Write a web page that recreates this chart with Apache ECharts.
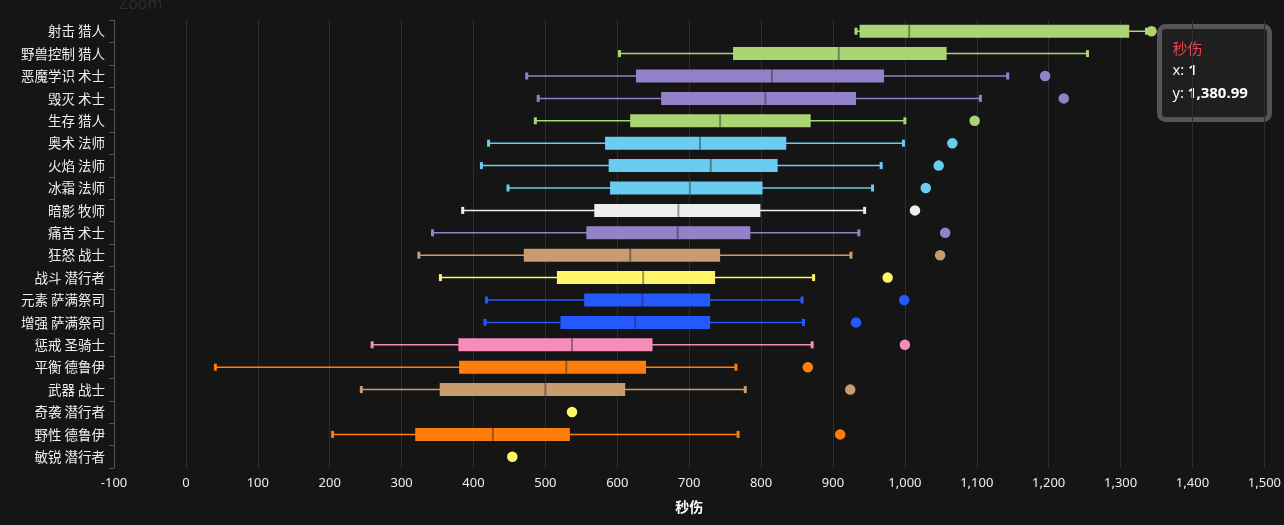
<!DOCTYPE html>
<html>
<head>
<meta charset="utf-8">
<script src="https://cdn.jsdelivr.net/npm/echarts@6/dist/echarts.min.js"></script>
<style>
html,body{margin:0;padding:0;background:#151515;}
#chart{width:1284px;height:525px;}
</style>
</head>
<body>
<div id="chart"></div>
<script>
const categories = ['射击 猎人','野兽控制 猎人','恶魔学识 术士','毁灭 术士','生存 猎人','奥术 法师','火焰 法师','冰霜 法师','暗影 牧师','痛苦 术士','狂怒 战士','战斗 潜行者','元素 萨满祭司','增强 萨满祭司','惩戒 圣骑士','平衡 德鲁伊','武器 战士','奇袭 潜行者','野性 德鲁伊','敏锐 潜行者'];
const mins    = [932, 603, 474, 490, 486, 421, 411, 448, 385, 343, 324, 354, 418, 416, 259,  41, 244, 537, 204, 454];
const q1s     = [937, 761, 626, 661, 618, 583, 588, 590, 568, 557, 470, 516, 554, 521, 379, 380, 353, 537, 319, 454];
const medians = [1006, 908, 815, 806, 743, 715, 730, 701, 685, 684, 618, 636, 635, 625, 537, 529, 500, 537, 427, 454];
const q3s     = [1312, 1058, 971, 932, 869, 835, 823, 802, 799, 785, 743, 736, 729, 729, 649, 640, 611, 537, 534, 454];
const maxs    = [1336, 1254, 1143, 1105, 1000, 998, 967, 955, 944, 936, 925, 873, 857, 859, 871, 765, 778, 537, 768, 454];
const outliers = [1343, null, 1195, 1221, 1097, 1066, 1047, 1029, 1014, 1056, 1049, 976, 999, 932, 1000, 865, 924, 537, 910, 454];
const xTicks = {min: -100, max: 1500, interval: 100};
const axisName = '秒伤';
const tipTitle = '秒伤';
const tipX = '1';
const tipY = '1,380.99';

const classColors = {
  '猎人': '#ABD473', '术士': '#9482C9', '法师': '#69CCF0', '牧师': '#EEEEEE',
  '战士': '#C79C6E', '潜行者': '#FFF569', '萨满祭司': '#2459FF', '圣骑士': '#F58CBA', '德鲁伊': '#FF7D0A'
};
function colorOf(i) { return classColors[categories[i].split(' ')[1]]; }

const boxData = categories.map((c, i) => [i, mins[i], q1s[i], medians[i], q3s[i], maxs[i]]);
const outlierData = [];
outliers.forEach((v, i) => { if (v != null) outlierData.push([v, i]); });

function renderItem(params, api) {
  const idx = api.value(0);
  const color = colorOf(idx);
  const pMin = api.coord([api.value(1), idx]);
  const pQ1 = api.coord([api.value(2), idx]);
  const pMed = api.coord([api.value(3), idx]);
  const pQ3 = api.coord([api.value(4), idx]);
  const pMax = api.coord([api.value(5), idx]);
  const band = api.size([0, 1])[1];
  const h = band * 0.58;
  const y = pMin[1];
  const children = [
    {type: 'line', shape: {x1: pMin[0], y1: y, x2: pMax[0], y2: y}, style: {stroke: color, lineWidth: 1.5}},
    {type: 'rect', shape: {x: pMin[0] - 1.5, y: y - 3.5, width: 3, height: 7}, style: {fill: color}},
    {type: 'rect', shape: {x: pMax[0] - 1.5, y: y - 3.5, width: 3, height: 7}, style: {fill: color}}
  ];
  if (pQ3[0] - pQ1[0] > 0.5) {
    children.push({type: 'rect', shape: {x: pQ1[0], y: y - h / 2, width: pQ3[0] - pQ1[0], height: h}, style: {fill: color}});
    children.push({type: 'line', shape: {x1: pMed[0], y1: y - h / 2, x2: pMed[0], y2: y + h / 2}, style: {stroke: 'rgba(40,40,40,0.45)', lineWidth: 2}});
  }
  return {type: 'group', children: children};
}

const chart = echarts.init(document.getElementById('chart'), null, {renderer: 'canvas'});
const tipFont = 'Open Sans';
chart.setOption({
  backgroundColor: '#151515',
  animation: false,
  title: {text: 'Zoom', left: 114, top: -9, textStyle: {color: '#2e2e2e', fontSize: 16, fontWeight: 'normal', fontFamily: 'Noto Sans'}},
  grid: {left: 114, right: 18, top: 20, bottom: 57},
  xAxis: {
    type: 'value', min: xTicks.min, max: xTicks.max, interval: xTicks.interval,
    name: axisName, nameLocation: 'middle', nameGap: 32,
    nameTextStyle: {color: '#fff', fontSize: 14, fontWeight: 'bold', fontFamily: 'Noto Sans CJK SC'},
    axisLine: {show: false}, axisTick: {show: false},
    axisLabel: {color: '#eee', fontSize: 13, margin: 9, fontFamily: 'Noto Sans', formatter: v => v.toLocaleString('en-US')},
    splitLine: {show: true, lineStyle: {color: '#2e2e2e', width: 1}}
  },
  yAxis: {
    type: 'category', data: categories, inverse: true,
    axisLine: {show: true, onZero: false, lineStyle: {color: '#555'}},
    axisTick: {show: true, length: 5, lineStyle: {color: '#555'}},
    axisLabel: {color: '#eee', fontSize: 13.5, margin: 9, fontFamily: 'Noto Sans CJK SC'},
    splitLine: {show: false}
  },
  series: [
    {type: 'custom', renderItem: renderItem, data: boxData, encode: {x: [1, 2, 3, 4, 5], y: 0}, z: 2},
    {type: 'scatter', data: outlierData, symbolSize: 10.5, z: 3,
      itemStyle: {opacity: 1, color: p => colorOf(p.value[1])}}
  ],
  graphic: [{
    type: 'group', left: 1157, top: 24,
    children: [
      {type: 'rect', shape: {x: 0, y: 0, width: 110, height: 93, r: 6}, style: {fill: '#1f1f1f', stroke: '#555', lineWidth: 5}},
      {type: 'text', x: 13, y: 14, style: {text: tipTitle, fill: '#e5474d', fontSize: 15, fontFamily: 'Noto Sans CJK SC'}},
      {type: 'text', x: 13, y: 37, style: {text: 'x: {b|' + tipX + '}', fill: '#fff', fontSize: 15, fontFamily: tipFont, rich: {b: {fontWeight: 'bold', fontSize: 15, fill: '#fff', fontFamily: tipFont}}}},
      {type: 'text', x: 13, y: 60, style: {text: 'y: {b|' + tipY + '}', fill: '#fff', fontSize: 15, fontFamily: tipFont, rich: {b: {fontWeight: 'bold', fontSize: 15, fill: '#fff', fontFamily: tipFont}}}}
    ]
  }]
});
</script>
</body>
</html>
